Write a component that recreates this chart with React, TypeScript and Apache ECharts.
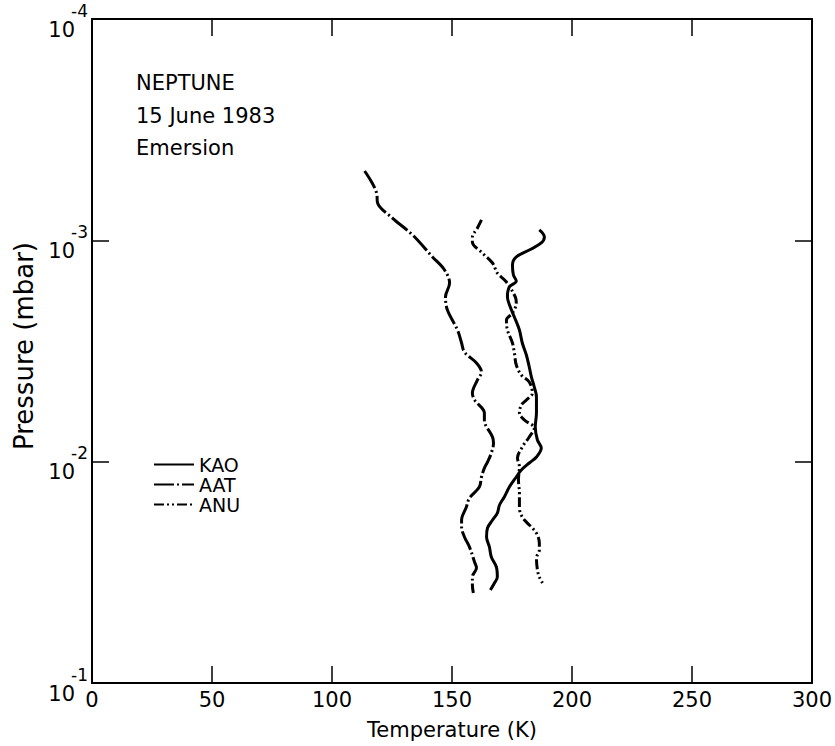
import React, { useEffect, useRef } from "react";
import * as echarts from "echarts";

// Temperature (K) and pressure (mbar)
const kaoTemp = [186.4, 188.5, 187.2, 182.2, 176.8, 175.2, 175.6, 176.8, 173.9, 173.1, 174.3, 176.0, 178.1, 179.3, 181.0, 182.2, 183.1, 184.3, 185.2, 185.2, 184.7, 185.6, 187.2, 185.2, 182.2, 178.9, 176.8, 173.9, 171.8, 169.8, 168.9, 166.9, 164.8, 164.4, 165.6, 166.4, 168.5, 168.9, 167.7, 166.0];
const kaoPres = [8.98e-4, 9.66e-4, 1.028e-3, 1.106e-3, 1.189e-3, 1.293e-3, 1.434e-3, 1.527e-3, 1.625e-3, 1.803e-3, 2.001e-3, 2.22e-3, 2.542e-3, 2.91e-3, 3.296e-3, 3.735e-3, 4.145e-3, 4.599e-3, 5.104e-3, 6.028e-3, 6.972e-3, 7.983e-3, 8.676e-3, 9.526e-3, 1.014e-2, 1.091e-2, 1.173e-2, 1.302e-2, 1.444e-2, 1.57e-2, 1.706e-2, 1.835e-2, 1.994e-2, 2.19e-2, 2.43e-2, 2.697e-2, 2.992e-2, 3.32e-2, 3.533e-2, 3.8e-2];

const aatTemp = [113.6, 116.5, 118.6, 119.0, 125.2, 133.6, 141.9, 146.9, 149.0, 147.3, 148.1, 152.3, 154.0, 155.2, 160.2, 162.3, 160.6, 158.5, 159.4, 163.5, 163.5, 166.9, 167.3, 166.4, 164.8, 163.5, 162.3, 161.4, 157.3, 156.0, 154.0, 154.0, 155.2, 157.3, 159.4, 160.2, 158.5, 158.5, 158.9];
const aatPres = [4.86e-4, 5.45e-4, 6.11e-4, 6.78e-4, 7.93e-4, 9.46e-4, 1.189e-3, 1.361e-3, 1.56e-3, 1.803e-3, 2.065e-3, 2.541e-3, 2.911e-3, 3.199e-3, 3.581e-3, 3.936e-3, 4.276e-3, 4.898e-3, 5.26e-3, 6.026e-3, 6.486e-3, 7.745e-3, 8.241e-3, 9.141e-3, 1.005e-2, 1.069e-2, 1.172e-2, 1.303e-2, 1.459e-2, 1.603e-2, 1.837e-2, 1.972e-2, 2.188e-2, 2.432e-2, 2.838e-2, 3.02e-2, 3.319e-2, 3.606e-2, 3.917e-2];

const anuTemp = [162.3, 160.6, 158.5, 158.5, 162.7, 166.9, 168.9, 172.7, 176.4, 176.8, 175.2, 172.7, 173.1, 175.2, 176.0, 176.8, 178.9, 182.2, 183.5, 181.0, 178.9, 178.1, 180.2, 184.3, 182.2, 179.3, 177.3, 178.1, 177.7, 178.1, 178.1, 178.5, 180.2, 183.5, 185.6, 186.4, 186.4, 185.2, 185.6, 186.4, 187.7];
const anuPres = [8.09e-4, 8.8e-4, 9.66e-4, 1.018e-3, 1.141e-3, 1.266e-3, 1.405e-3, 1.543e-3, 1.803e-3, 1.92e-3, 2.13e-3, 2.291e-3, 2.542e-3, 2.91e-3, 3.228e-3, 3.659e-3, 4.06e-3, 4.366e-3, 4.896e-3, 5.265e-3, 5.546e-3, 6.028e-3, 6.484e-3, 7.045e-3, 7.738e-3, 8.587e-3, 9.627e-3, 1.057e-2, 1.21e-2, 1.386e-2, 1.603e-2, 1.706e-2, 1.835e-2, 1.994e-2, 2.145e-2, 2.331e-2, 2.507e-2, 2.725e-2, 3.087e-2, 3.32e-2, 3.533e-2];

const seriesNames = ["KAO", "AAT", "ANU"];
const annotationLines = ["NEPTUNE", "15 June 1983", "Emersion"];
const xTickInterval = 50;
const xRange = [0, 300];
const pressureRange = [1e-4, 1e-1];

const FONT = "DejaVu Sans";

export default function App() {
  const ref = useRef<HTMLDivElement>(null);

  useEffect(() => {
    if (!ref.current) return;
    const chart = echarts.init(ref.current, null, { renderer: "svg" });
    const pair = (t: number[], p: number[]) => t.map((v, i) => [v, p[i]]);

    const axisLine = { show: true, onZero: false, lineStyle: { color: "#000", width: 2 } };
    const axisTick = { show: true, inside: true, length: 17, lineStyle: { color: "#000", width: 1.5 } };

    const expLabel = (v: number) => {
      const e = Math.round(Math.log10(v));
      return `{e|${e}}\n{b|10}`;
    };

    const lineBase = {
      type: "line",
      showSymbol: false,
      symbol: "none",
      smooth: 0.35,
      z: 3,
      itemStyle: { color: "#000" },
    };

    chart.setOption({
      animation: false,
      backgroundColor: "#fff",
      grid: { left: 92, top: 19, right: 22, bottom: 63 },
      xAxis: [
        {
          type: "value",
          min: xRange[0],
          max: xRange[1],
          interval: xTickInterval,
          position: "bottom",
          axisLine,
          axisTick,
          splitLine: { show: false },
          axisLabel: { color: "#000", fontSize: 21, fontFamily: FONT, margin: 6 },
          name: "Temperature (K)",
          nameLocation: "middle",
          nameGap: 36,
          nameTextStyle: { color: "#000", fontSize: 21, fontFamily: FONT },
        },
        {
          type: "value",
          min: xRange[0],
          max: xRange[1],
          interval: xTickInterval,
          position: "top",
          axisLine,
          axisTick,
          splitLine: { show: false },
          axisLabel: { show: false },
        },
      ],
      yAxis: [
        {
          type: "log",
          logBase: 10,
          min: pressureRange[0],
          max: pressureRange[1],
          inverse: true,
          position: "left",
          axisLine,
          axisTick,
          splitLine: { show: false },
          minorTick: { show: false },
          axisLabel: {
            formatter: expLabel,
            margin: 4,
            align: "right",
            padding: [4, 0, 0, 0],
            rich: {
              e: { fontSize: 17, lineHeight: 17, fontFamily: FONT, color: "#000", align: "right" },
              b: { fontSize: 21, lineHeight: 21, fontFamily: FONT, color: "#000", align: "right", padding: [0, 13, 0, 0] },
            },
          },
          name: "Pressure (mbar)",
          nameLocation: "middle",
          nameGap: 55,
          nameRotate: 90,
          nameTextStyle: { color: "#000", fontSize: 26, fontFamily: FONT, padding: [0, 0, 0, 10] },
        },
        {
          type: "log",
          logBase: 10,
          min: pressureRange[0],
          max: pressureRange[1],
          inverse: true,
          position: "right",
          axisLine,
          axisTick,
          splitLine: { show: false },
          axisLabel: { show: false },
        },
      ],
      legend: {
        orient: "vertical",
        left: 148,
        top: 450,
        itemWidth: 40,
        itemHeight: 12,
        itemGap: 1,
        data: seriesNames,
        itemStyle: { opacity: 0 },
        textStyle: { color: "#000", fontSize: 19, fontFamily: FONT },
      },
      graphic: annotationLines.map((t, i) => ({
        type: "text",
        x: 136,
        y: [83, 116, 148][i],
        style: { text: t, fontSize: 21, fontFamily: FONT, fill: "#000", verticalAlign: "middle" },
      })),
      series: [
        {
          ...lineBase,
          name: seriesNames[0],
          data: pair(kaoTemp, kaoPres),
          lineStyle: { color: "#000", width: 3 },
        },
        {
          ...lineBase,
          name: seriesNames[1],
          data: pair(aatTemp, aatPres),
          lineStyle: { color: "#000", width: 3, type: [20, 3, 2, 3] },
        },
        {
          ...lineBase,
          name: seriesNames[2],
          data: pair(anuTemp, anuPres),
          lineStyle: { color: "#000", width: 3, type: [10, 3, 2, 3, 2, 3] },
        },
      ],
    });

    return () => chart.dispose();
  }, []);

  return (
    <div
      ref={ref}
      style={{ position: "fixed", left: 0, top: 0, width: 835, height: 746, background: "#fff" }}
    />
  );
}
